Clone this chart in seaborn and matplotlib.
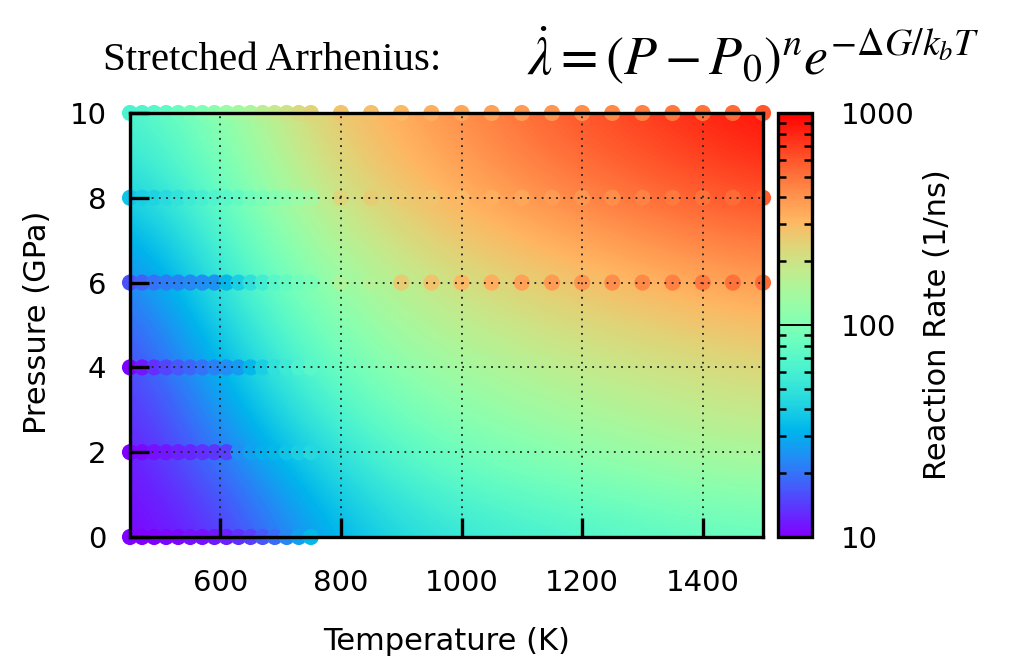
import numpy as np
import pandas as pd
import matplotlib
matplotlib.use("Agg")
import matplotlib.pyplot as plt
from matplotlib.colors import LogNorm
from matplotlib.cm import ScalarMappable
import seaborn as sns

# ---------------- data ----------------
# fitted surface, sampled on a coarse grid (rate in 1/ns)
grid_temperature = [450, 600, 750, 900, 1050, 1200, 1350, 1500]
grid_pressure = [0, 2, 4, 6, 8, 10]
fit_rate_p0 = [10, 12.6, 26, 42, 52, 60, 69, 76]
fit_rate_p2 = [11, 21, 42, 72, 100, 120, 145, 158]
fit_rate_p4 = [14, 31, 72, 120, 151, 182, 200, 229]
fit_rate_p6 = [20, 51, 110, 174, 229, 275, 331, 380]
fit_rate_p8 = [38, 77, 174, 275, 363, 457, 550, 631]
fit_rate_p10 = [63, 115, 251, 347, 479, 631, 759, 955]

# simulation points
temps_low = [450, 470, 490, 510, 530, 550, 570, 590, 610, 630, 650, 670, 690, 710, 730, 750]
temps_high = [800, 850, 900, 950, 1000, 1050, 1100, 1150, 1200, 1250, 1300, 1350, 1400, 1450, 1500]

sim_p10_low = [63, 66, 69, 76, 83, 91, 100, 110, 126, 138, 151, 166, 182, 200, 219, 240]
sim_p10_high = [275, 288, 302, 331, 347, 363, 380, 398, 417, 437, 457, 479, 501, 525, 603]
sim_p8_low = [36, 40, 42, 46, 50, 55, 60, 66, 72, 79, 87, 95, 105, 115, 126, 138]
sim_p8_high = [229, 251, 263, 275, 302, 331, 347, 380, 398, 417, 457, 479, 501, 525, 575]
sim_p6_low = [16, 18, 20, 21, 22, 23, 24, 25, 33, 40, 48, 58, 69, 79, 87, 95]
sim_p6_high = [148, 158, 251, 275, 302, 331, 363, 380, 398, 417, 437, 457, 479, 501, 525]
sim_p4_low = [10, 11.5, 13.2, 15.1, 16.6, 18.2, 20, 21.9, 24, 26.3, 33, 40, 48, 55, 63, 72]
sim_p2_low = [10, 10.5, 11, 11.5, 12, 12.6, 13.2, 13.8, 14.5, 24, 27.5, 30, 33, 36, 40, 44]
sim_p0_low = [10, 10, 10, 10.5, 10.5, 11, 11, 11.5, 12, 13.2, 14.5, 16.6, 19, 23, 27.5, 33]

x_ticks = [600, 800, 1000, 1200, 1400]
y_ticks = [0, 2, 4, 6, 8, 10]
cbar_ticks = [10, 100, 1000]
cbar_ticklabels = ["10", "100", "1000"]

# ---------------- assemble ----------------
rate_grid = np.array([fit_rate_p0, fit_rate_p2, fit_rate_p4,
                      fit_rate_p6, fit_rate_p8, fit_rate_p10], dtype=float)

rows = []
def add(temps, p, rates):
    for t, r in zip(temps, rates):
        rows.append({"T": t, "P": p, "rate": r})
add(temps_low, 10, sim_p10_low); add(temps_high, 10, sim_p10_high)
add(temps_low, 8, sim_p8_low); add(temps_high, 8, sim_p8_high)
add(temps_low, 6, sim_p6_low); add(temps_high, 6, sim_p6_high)
add(temps_low, 4, sim_p4_low)
add(temps_low, 2, sim_p2_low)
add(temps_low, 0, sim_p0_low)
df = pd.DataFrame(rows)

sns.set_style("white")
plt.rcParams["font.family"] = ["DejaVu Sans"]
plt.rcParams["mathtext.fontset"] = "stix"
for k in ["text.color", "axes.labelcolor", "xtick.color", "ytick.color"]:
    plt.rcParams[k] = "black"

norm = LogNorm(vmin=10, vmax=1000)
cmap = plt.get_cmap("rainbow")

fig = plt.figure(figsize=(10.15, 6.57), dpi=100)
ax = fig.add_axes([130 / 1015, 1 - 537 / 657, 633 / 1015, 424 / 657])
cax = fig.add_axes([778 / 1015, 1 - 537 / 657, 34 / 1015, 424 / 657])

dT = grid_temperature[1] - grid_temperature[0]
dP = grid_pressure[1] - grid_pressure[0]
ax.imshow(np.log10(rate_grid), origin="lower", aspect="auto", cmap=cmap,
          vmin=np.log10(norm.vmin), vmax=np.log10(norm.vmax),
          interpolation="bicubic",
          extent=(grid_temperature[0] - dT / 2, grid_temperature[-1] + dT / 2,
                  grid_pressure[0] - dP / 2, grid_pressure[-1] + dP / 2),
          zorder=0)

sns.scatterplot(data=df, x="T", y="P", hue="rate", hue_norm=norm,
                palette="rainbow", s=135, linewidth=0, legend=False,
                clip_on=False, zorder=2, ax=ax)

ax.set_xlim(grid_temperature[0], grid_temperature[-1])
ax.set_ylim(grid_pressure[0], grid_pressure[-1])
ax.set_xticks(x_ticks)
ax.set_yticks(y_ticks)
ax.set_axisbelow(False)
ax.grid(True, color="#222222", linestyle=(0, (1, 3)), linewidth=1.3)
ax.tick_params(axis="both", direction="in", length=14, width=2.4,
               colors="black", labelsize=21, bottom=True, left=True,
               top=False, right=False)
ax.tick_params(axis="x", pad=23)
ax.tick_params(axis="y", pad=17)
for sp in ax.spines.values():
    sp.set_visible(True)
    sp.set_linewidth(2.4)
    sp.set_color("black")
    sp.set_zorder(3)

ax.set_xlabel("Temperature (K)", fontsize=22)
ax.xaxis.set_label_coords(0.5, (537 - 627) / 424)
ax.set_ylabel("Pressure (GPa)", fontsize=22)
ax.yaxis.set_label_coords((38 - 130) / 633, (537 - 322) / 424)
ax.yaxis.label.set_verticalalignment("center")

cb = fig.colorbar(ScalarMappable(norm=norm, cmap=cmap), cax=cax)
cax.set_axisbelow(False)
cb.outline.set_linewidth(2.4)
cb.outline.set_edgecolor("black")
cb.outline.set_zorder(4)
cb.set_ticks(cbar_ticks)
cb.set_ticklabels(cbar_ticklabels)
cb.minorticks_on()
cax.tick_params(which="major", direction="in", length=24.5, width=1.2,
                left=True, right=True, labelsize=21, pad=21, colors="black")
cax.tick_params(which="minor", direction="in", length=6, width=1.8,
                left=True, right=True, colors="black")
cb.set_label("Reaction Rate (1/ns)", fontsize=22)
cax.yaxis.set_label_coords((938 - 778) / 34, 0.5)
cax.yaxis.label.set_verticalalignment("center")

fig.text(103 / 1015, 1 - 60 / 657, "Stretched Arrhenius:", fontsize=29.5,
         family="Liberation Serif", ha="left", va="center")
fig.text(527 / 1015, 1 - 56 / 657,
         r"$\dot{\lambda} = (P - P_0)^n e^{-\Delta G/k_b T}$",
         fontsize=39, ha="left", va="center")

fig.savefig("out.png", dpi=100)
